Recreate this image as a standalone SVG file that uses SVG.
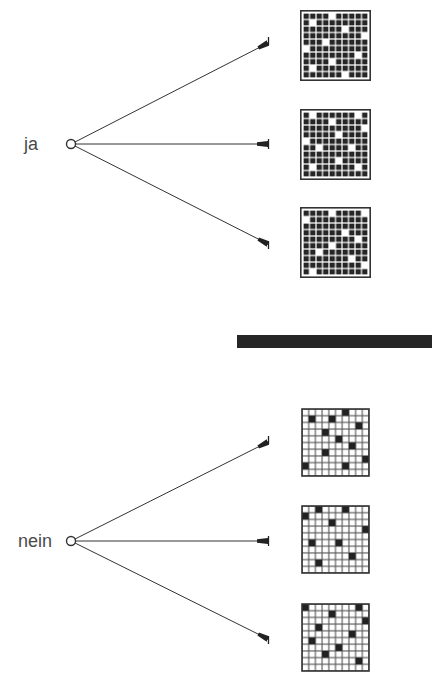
<svg xmlns="http://www.w3.org/2000/svg" width="432" height="673" viewBox="0 0 432 673">
<style>
.lbl{font-family:"Liberation Sans",Arial,sans-serif;font-size:18px;fill:#4a4a4a}
.node{fill:#fff;stroke:#333;stroke-width:1.4}
.edge{stroke:#333;stroke-width:1;fill:none;marker-end:url(#ah)}
.tick{stroke:#222;stroke-width:1.3}
.frame{fill:none;stroke:#333;stroke-width:1.6}
.w{fill:#fff}
.b{fill:#222}
</style>
<defs>
<marker id="ah" viewBox="0 0 11 6" refX="11" refY="3" markerWidth="11" markerHeight="6" markerUnits="userSpaceOnUse" orient="auto">
<path d="M0,1.3 L11,0 L11,6 L0,4.7 Z" fill="#222"/>
</marker>
<pattern id="dk" patternUnits="userSpaceOnUse" x="3" y="3" width="6.5" height="6.5">
<rect x="0.6" y="0.6" width="5.3" height="5.3" fill="#262626"/>
</pattern>
<pattern id="lt" patternUnits="userSpaceOnUse" x="0" y="0" width="6.7" height="6.7">
<rect x="0" y="0" width="6.7" height="6.7" fill="#fff" stroke="#555" stroke-width="1.1"/>
</pattern>
</defs>

<g id="label-ja"><text class="lbl" x="24" y="150">ja</text></g>
<g id="label-nein"><text class="lbl" x="18" y="547">nein</text></g>
<g id="node-ja"><circle class="node" cx="71" cy="144" r="4.5"/></g>
<g id="node-nein"><circle class="node" cx="71" cy="541" r="4.5"/></g>

<g id="connectors">
<line class="edge" x1="75" y1="142" x2="268" y2="43"/>
<line class="edge" x1="75.5" y1="144" x2="268" y2="144"/>
<line class="edge" x1="75" y1="146" x2="268" y2="244"/>
<line class="tick" x1="268.5" y1="37" x2="268.5" y2="45"/>
<line class="tick" x1="268.5" y1="139" x2="268.5" y2="149"/>
<line class="tick" x1="268.5" y1="241" x2="268.5" y2="249"/>
<line class="edge" x1="75" y1="539" x2="268" y2="442"/>
<line class="edge" x1="75.5" y1="541" x2="268" y2="541"/>
<line class="edge" x1="75" y1="543" x2="268" y2="639"/>
<line class="tick" x1="268.5" y1="436" x2="268.5" y2="444"/>
<line class="tick" x1="268.5" y1="536" x2="268.5" y2="546"/>
<line class="tick" x1="268.5" y1="636" x2="268.5" y2="644"/>
</g>

<g id="grid-ja-1" transform="translate(300,10)">
<rect x="3" y="3" width="65" height="65" fill="url(#dk)"/>
<rect class="w" x="29" y="3" width="6.5" height="6.5"/>
<rect class="w" x="9.5" y="9.5" width="6.5" height="6.5"/>
<rect class="w" x="42" y="16" width="6.5" height="6.5"/>
<rect class="w" x="61.5" y="22.5" width="6.5" height="6.5"/>
<rect class="w" x="22.5" y="29" width="6.5" height="6.5"/>
<rect class="w" x="3" y="35.5" width="6.5" height="6.5"/>
<rect class="w" x="55" y="42" width="6.5" height="6.5"/>
<rect class="w" x="29" y="48.5" width="6.5" height="6.5"/>
<rect class="w" x="9.5" y="55" width="6.5" height="6.5"/>
<rect class="w" x="42" y="61.5" width="6.5" height="6.5"/>
<rect class="frame" x="0.8" y="0.8" width="69.4" height="69.4"/>
</g>

<g id="grid-ja-2" transform="translate(300,109)">
<rect x="3" y="3" width="65" height="65" fill="url(#dk)"/>
<rect class="w" x="9.5" y="3" width="6.5" height="6.5"/>
<rect class="w" x="55" y="3" width="6.5" height="6.5"/>
<rect class="w" x="29" y="9.5" width="6.5" height="6.5"/>
<rect class="w" x="61.5" y="16" width="6.5" height="6.5"/>
<rect class="w" x="35.5" y="22.5" width="6.5" height="6.5"/>
<rect class="w" x="3" y="29" width="6.5" height="6.5"/>
<rect class="w" x="16" y="35.5" width="6.5" height="6.5"/>
<rect class="w" x="48.5" y="35.5" width="6.5" height="6.5"/>
<rect class="w" x="35.5" y="48.5" width="6.5" height="6.5"/>
<rect class="w" x="9.5" y="55" width="6.5" height="6.5"/>
<rect class="w" x="55" y="55" width="6.5" height="6.5"/>
<rect class="frame" x="0.8" y="0.8" width="69.4" height="69.4"/>
</g>

<g id="grid-ja-3" transform="translate(300,207)">
<rect x="3" y="3" width="65" height="65" fill="url(#dk)"/>
<rect class="w" x="29" y="3" width="6.5" height="6.5"/>
<rect class="w" x="61.5" y="3" width="6.5" height="6.5"/>
<rect class="w" x="3" y="9.5" width="6.5" height="6.5"/>
<rect class="w" x="42" y="22.5" width="6.5" height="6.5"/>
<rect class="w" x="55" y="29" width="6.5" height="6.5"/>
<rect class="w" x="29" y="35.5" width="6.5" height="6.5"/>
<rect class="w" x="16" y="42" width="6.5" height="6.5"/>
<rect class="w" x="48.5" y="48.5" width="6.5" height="6.5"/>
<rect class="w" x="61.5" y="55" width="6.5" height="6.5"/>
<rect class="w" x="9.5" y="61.5" width="6.5" height="6.5"/>
<rect class="frame" x="0.8" y="0.8" width="69.4" height="69.4"/>
</g>

<g id="divider"><rect x="237" y="335" width="195" height="13" fill="#262626"/></g>

<g id="grid-nein-1" transform="translate(302,409)">
<rect x="0" y="0" width="67" height="67" fill="url(#lt)"/>
<rect class="b" x="6.7" y="6.7" width="6.7" height="6.7"/>
<rect class="b" x="26.8" y="6.7" width="6.7" height="6.7"/>
<rect class="b" x="40.2" y="0" width="6.7" height="6.7"/>
<rect class="b" x="53.6" y="13.4" width="6.7" height="6.7"/>
<rect class="b" x="20.1" y="20.1" width="6.7" height="6.7"/>
<rect class="b" x="33.5" y="26.8" width="6.7" height="6.7"/>
<rect class="b" x="46.9" y="33.5" width="6.7" height="6.7"/>
<rect class="b" x="20.1" y="40.2" width="6.7" height="6.7"/>
<rect class="b" x="60.3" y="46.9" width="6.7" height="6.7"/>
<rect class="b" x="0" y="53.6" width="6.7" height="6.7"/>
<rect class="b" x="40.2" y="53.6" width="6.7" height="6.7"/>
<rect class="frame" x="0" y="0" width="67" height="67"/>
</g>

<g id="grid-nein-2" transform="translate(302,506)">
<rect x="0" y="0" width="67" height="67" fill="url(#lt)"/>
<rect class="b" x="13.4" y="0" width="6.7" height="6.7"/>
<rect class="b" x="40.2" y="0" width="6.7" height="6.7"/>
<rect class="b" x="0" y="6.7" width="6.7" height="6.7"/>
<rect class="b" x="26.8" y="13.4" width="6.7" height="6.7"/>
<rect class="b" x="60.3" y="20.1" width="6.7" height="6.7"/>
<rect class="b" x="6.7" y="33.5" width="6.7" height="6.7"/>
<rect class="b" x="33.5" y="33.5" width="6.7" height="6.7"/>
<rect class="b" x="46.9" y="46.9" width="6.7" height="6.7"/>
<rect class="b" x="13.4" y="53.6" width="6.7" height="6.7"/>
<rect class="frame" x="0" y="0" width="67" height="67"/>
</g>

<g id="grid-nein-3" transform="translate(302,604)">
<rect x="0" y="0" width="67" height="67" fill="url(#lt)"/>
<rect class="b" x="0" y="0" width="6.7" height="6.7"/>
<rect class="b" x="53.6" y="0" width="6.7" height="6.7"/>
<rect class="b" x="26.8" y="6.7" width="6.7" height="6.7"/>
<rect class="b" x="60.3" y="13.4" width="6.7" height="6.7"/>
<rect class="b" x="13.4" y="20.1" width="6.7" height="6.7"/>
<rect class="b" x="46.9" y="26.8" width="6.7" height="6.7"/>
<rect class="b" x="6.7" y="33.5" width="6.7" height="6.7"/>
<rect class="b" x="33.5" y="40.2" width="6.7" height="6.7"/>
<rect class="b" x="20.1" y="46.9" width="6.7" height="6.7"/>
<rect class="b" x="53.6" y="53.6" width="6.7" height="6.7"/>
<rect class="frame" x="0" y="0" width="67" height="67"/>
</g>
</svg>
